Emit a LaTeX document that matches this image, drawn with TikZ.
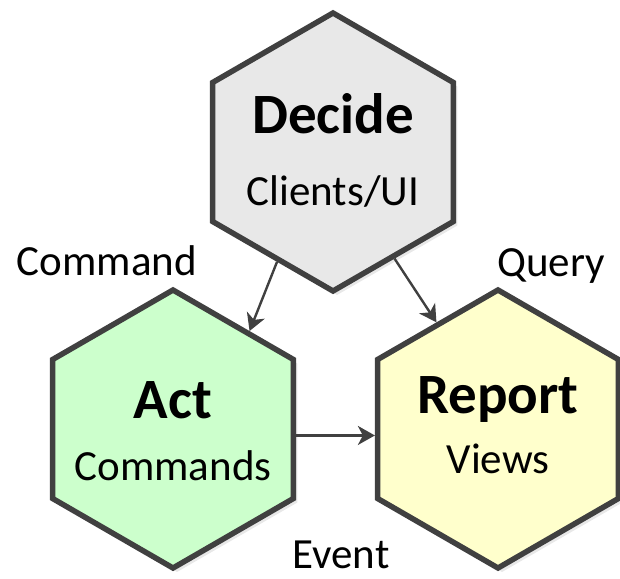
\documentclass[tikz,border=0pt]{standalone}
\usepackage{fontspec}
\setmainfont{Carlito}
\usepackage{xcolor}
\usetikzlibrary{shapes.geometric,arrows.meta,shadows}

\definecolor{hexline}{HTML}{404040}
\definecolor{decidefill}{HTML}{E8E8E8}
\definecolor{actfill}{HTML}{CCFFCC}
\definecolor{reportfill}{HTML}{FFFFCC}

\begin{document}
\begin{tikzpicture}[x=1pt,y=-1pt,
  hexa/.style={regular polygon, regular polygon sides=6, shape border rotate=30,
    minimum size=278pt, inner sep=0pt, draw=hexline, line width=5.5pt,
    drop shadow={shadow xshift=4pt, shadow yshift=-4pt, fill=black!18}},
  title/.style={font=\fontsize{57}{60}\selectfont\bfseries, inner sep=0pt, anchor=base},
  sub/.style={font=\fontsize{43}{46}\selectfont, inner sep=0pt, anchor=base},
  link/.style={draw=hexline, line width=2.4pt, -{Stealth[length=17pt,width=19pt,inset=5pt]}}]

\useasboundingbox (0,0) rectangle (620,578);

% hexagones
\node[hexa, fill=decidefill] (decide) at (333,152) {};
\node[hexa, fill=actfill] (act) at (173,429) {};
\node[hexa, fill=reportfill] (report) at (498,429) {};

\node[title] (decidetitle) at (333,133) {Decide};
\node[sub] (decidesub) at (333,205) {Clients/UI};
\node[title] (acttitle) at (173,418) {Act};
\node[sub] (actsub) at (173,480) {Commands};
\node[title] (reporttitle) at (498,413) {Report};
\node[sub] (reportsub) at (498,473) {Views};

% fleches
\draw[link] (decide.243) -- (act.52);
\draw[link] (decide.300) -- (report.120);
\draw[link] (act.-3) -- (report.183);

\node[sub] (command) at (107,275) {Command};
\node[sub] (query) at (551,276) {Query};
\node[sub] (event) at (341,568) {Event};

\end{tikzpicture}
\end{document}
